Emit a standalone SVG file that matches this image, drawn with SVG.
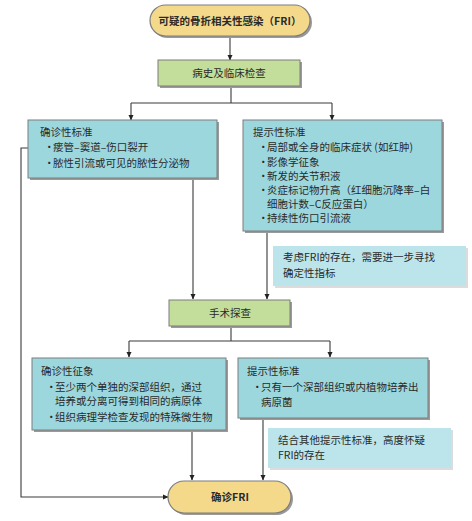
<svg xmlns="http://www.w3.org/2000/svg" width="472" height="521" viewBox="0 0 472 521">
<defs>
<marker id="ah" markerWidth="6" markerHeight="6" refX="5" refY="3" orient="auto" markerUnits="userSpaceOnUse">
<path d="M0,0.5 L5.5,3 L0,5.5 Z" fill="#222"/>
</marker>
<style>
text{font-family:"Noto Sans CJK SC","Liberation Serif",sans-serif;font-size:10.5px;fill:#2a2a2a}
.b{font-weight:bold}
.c{text-anchor:middle}
.pill{fill:#f4d98a;stroke:#7d7d7d;stroke-width:1.2}
.green{fill:#c3de9b;stroke:#7d7d7d;stroke-width:1}
.blue{fill:#9dd7de;stroke:#7d7d7d;stroke-width:1}
.note{fill:#bce5eb}
.sh{fill:#9a9a9a}
.nsh{fill:#dcdcdc}
.ln{fill:none;stroke:#3a3a3a;stroke-width:1.1}
</style>
</defs>
<rect width="472" height="521" fill="#fff"/>

<g id="connectors">
<path class="ln" d="M230,37 V60" marker-end="url(#ah)"/>
<path class="ln" d="M231,88 V103 M131,103 H332"/>
<path class="ln" d="M131,103 V120" marker-end="url(#ah)"/>
<path class="ln" d="M332,103 V120" marker-end="url(#ah)"/>
<path class="ln" d="M193,180 V299" marker-end="url(#ah)"/>
<path class="ln" d="M267,233 V299" marker-end="url(#ah)"/>
<path class="ln" d="M28,148 H21 V497 H168" marker-end="url(#ah)"/>
<path class="ln" d="M231,328 V341 M129,341 H330"/>
<path class="ln" d="M129,341 V357" marker-end="url(#ah)"/>
<path class="ln" d="M330,341 V357" marker-end="url(#ah)"/>
<path class="ln" d="M192,432 V480" marker-end="url(#ah)"/>
<path class="ln" d="M263,420 V480" marker-end="url(#ah)"/>
</g>

<g id="n_start">
<rect x="152" y="7" width="160" height="31" rx="15.5" class="sh"/>
<rect x="150" y="5" width="160" height="31" rx="15.5" class="pill"/>
<text x="230" y="25" class="c b">可疑的骨折相关性感染（FRI）</text>
</g>

<g id="n_history">
<rect x="160" y="62" width="142" height="26" class="sh"/>
<rect x="158" y="60" width="142" height="26" class="green"/>
<text x="229" y="77" class="c">病史及临床检查</text>
</g>

<g id="n_confirm1">
<rect x="30" y="122" width="189" height="58" class="sh"/>
<rect x="28" y="120" width="189" height="58" class="blue"/>
<text x="40" y="136">确诊性标准</text>
<text x="44" y="151">·<tspan x="53">瘘管–窦道–伤口裂开</tspan></text>
<text x="44" y="167">·<tspan x="53">脓性引流或可见的脓性分泌物</tspan></text>
</g>

<g id="n_suggest1">
<rect x="245" y="122" width="199" height="111" class="sh"/>
<rect x="243" y="120" width="199" height="111" class="blue"/>
<text x="253" y="136">提示性标准</text>
<text x="258" y="151">·<tspan x="267">局部或全身的临床症状 (如红肿)</tspan></text>
<text x="258" y="166">·<tspan x="267">影像学征象</tspan></text>
<text x="258" y="180">·<tspan x="267">新发的关节积液</tspan></text>
<text x="258" y="194">·<tspan x="267">炎症标记物升高（红细胞沉降率–白</tspan></text>
<text x="267" y="208">细胞计数–C反应蛋白）</text>
<text x="258" y="222">·<tspan x="267">持续性伤口引流液</tspan></text>
</g>

<g id="n_note1">
<rect x="275" y="248" width="193" height="40" class="nsh"/>
<rect x="273" y="246" width="193" height="40" class="note"/>
<text x="283" y="261">考虑FRI的存在，需要进一步寻找</text>
<text x="283" y="277">确定性指标</text>
</g>

<g id="n_surgery">
<rect x="171" y="302" width="121" height="26" class="sh"/>
<rect x="169" y="300" width="121" height="26" class="green"/>
<text x="230" y="317" class="c">手术探查</text>
</g>

<g id="n_confirm2">
<rect x="34" y="360" width="194" height="72" class="sh"/>
<rect x="32" y="358" width="194" height="72" class="blue"/>
<text x="41" y="375">确诊性征象</text>
<text x="46" y="391">·<tspan x="55">至少两个单独的深部组织，通过</tspan></text>
<text x="55" y="405">培养或分离可得到相同的病原体</text>
<text x="46" y="421">·<tspan x="55">组织病理学检查发现的特殊微生物</tspan></text>
</g>

<g id="n_suggest2">
<rect x="240" y="360" width="190" height="60" class="sh"/>
<rect x="238" y="358" width="190" height="60" class="blue"/>
<text x="247" y="375">提示性标准</text>
<text x="252" y="391">·<tspan x="261">只有一个深部组织或内植物培养出</tspan></text>
<text x="261" y="406">病原菌</text>
</g>

<g id="n_note2">
<rect x="270" y="430" width="183" height="40" class="nsh"/>
<rect x="268" y="428" width="183" height="40" class="note"/>
<text x="278" y="444">结合其他提示性标准，高度怀疑</text>
<text x="278" y="459">FRI的存在</text>
</g>

<g id="n_end">
<rect x="170" y="483" width="123" height="32" rx="16" class="sh"/>
<rect x="168" y="481" width="123" height="32" rx="16" class="pill"/>
<text x="230" y="501" class="c b">确诊FRI</text>
</g>
</svg>
